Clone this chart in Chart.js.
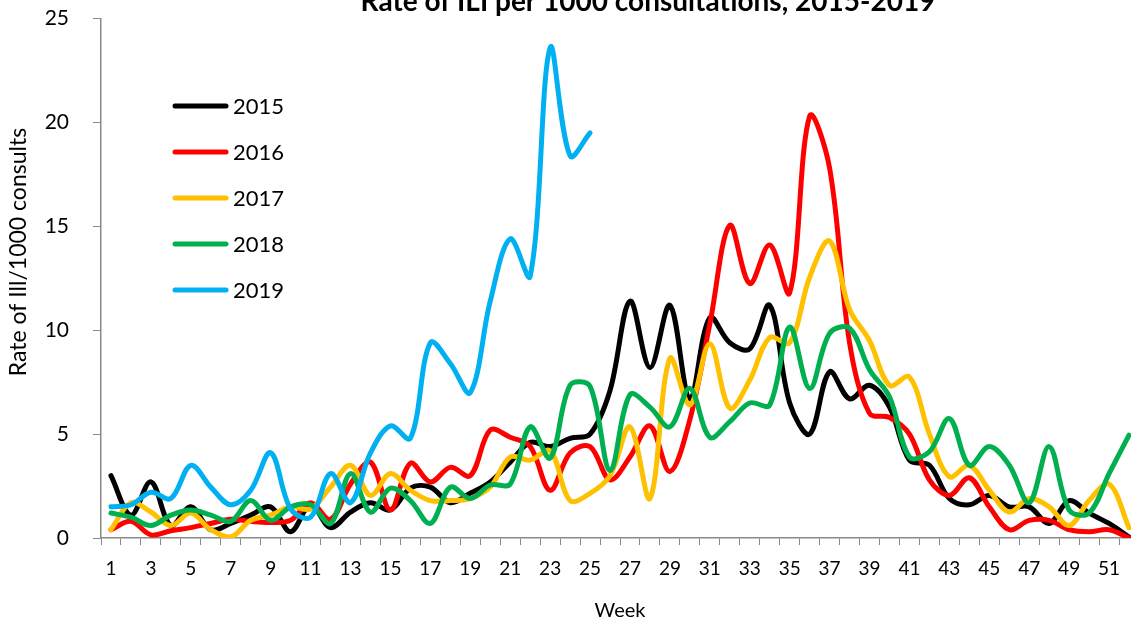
<!DOCTYPE html>
<html>
<head>
<meta charset="utf-8">
<script src="https://cdn.jsdelivr.net/npm/chart.js@4.4.0/dist/chart.umd.min.js"></script>
<style>
  html, body { margin: 0; padding: 0; background: #fff; overflow: hidden; }
  canvas { display: block; margin-top: -18px; }
</style>
</head>
<body>
<canvas id="chart" width="1144" height="642"></canvas>
<script>
const weeks = [1, 2, 3, 4, 5, 6, 7, 8, 9, 10, 11, 12, 13, 14, 15, 16, 17, 18, 19, 20, 21, 22, 23, 24, 25, 26,
  27, 28, 29, 30, 31, 32, 33, 34, 35, 36, 37, 38, 39, 40, 41, 42, 43, 44, 45, 46, 47, 48, 49, 50, 51, 52];

const years = ["2015", "2016", "2017", "2018", "2019"];

const rate2015 = [3.0, 1.1, 2.7, 0.6, 1.5, 0.4, 0.7, 1.1, 1.5, 0.3, 1.6, 0.5, 1.25, 1.7, 1.35, 2.4, 2.45, 1.7, 2.15, 2.7,
  3.65, 4.6, 4.4, 4.8, 5.0, 7.1, 11.4, 8.2, 11.2, 6.7, 10.6, 9.4, 9.1, 11.2, 6.5, 5.0, 8.0, 6.7, 7.35, 6.3,
  3.75, 3.5, 1.9, 1.6, 2.05, 1.5, 1.5, 0.7, 1.8, 1.2, 0.7, 0.05];
const rate2016 = [0.4, 0.8, 0.15, 0.35, 0.5, 0.7, 0.9, 0.8, 0.75, 0.85, 1.7, 0.9, 2.6, 3.65, 1.35, 3.6, 2.7, 3.4, 3.0, 5.2,
  4.85, 4.4, 2.3, 4.1, 4.4, 2.8, 3.9, 5.4, 3.2, 5.7, 10.3, 15.05, 12.25, 14.1, 11.8, 20.3, 17.8, 9.4, 6.0, 5.8,
  5.0, 2.8, 2.05, 2.9, 1.5, 0.4, 0.85, 0.85, 0.4, 0.3, 0.4, 0.0];
const rate2017 = [0.4, 1.7, 1.25, 0.6, 1.2, 0.4, 0.05, 0.85, 1.1, 1.5, 1.4, 2.45, 3.5, 2.05, 3.1, 2.3, 1.8, 1.8, 1.9, 2.45,
  3.9, 3.75, 4.2, 1.8, 2.15, 3.0, 5.35, 1.9, 8.65, 6.4, 9.35, 6.25, 7.6, 9.65, 9.4, 12.55, 14.3, 11.0, 9.5, 7.35,
  7.75, 5.0, 2.95, 3.5, 2.3, 1.25, 1.9, 1.5, 0.6, 1.8, 2.6, 0.5];
const rate2018 = [1.2, 1.0, 0.6, 1.1, 1.35, 1.1, 0.8, 1.8, 0.85, 1.5, 1.6, 0.7, 3.1, 1.25, 2.4, 1.8, 0.7, 2.45, 1.9, 2.55,
  2.6, 5.35, 3.85, 7.35, 7.3, 3.25, 6.9, 6.3, 5.35, 7.2, 4.85, 5.6, 6.5, 6.4, 10.15, 7.2, 9.85, 10.1, 8.1, 6.8,
  3.9, 4.15, 5.75, 3.5, 4.4, 3.5, 1.7, 4.4, 1.35, 1.2, 3.1, 4.95];
const rate2019 = [1.5, 1.6, 2.2, 1.9, 3.5, 2.45, 1.6, 2.3, 4.1, 1.4, 1.0, 3.1, 1.7, 4.1, 5.4, 4.8, 9.4, 8.4, 7.0, 11.4,
  14.4, 12.6, 23.6, 18.4, 19.5];

const yTicks = [0, 5, 10, 15, 20, 25];

const lineColors = ["#000000", "#FF0000", "#FFC000", "#00B050", "#00B0F0"];
const series = [rate2015, rate2016, rate2017, rate2018, rate2019];

const FONT = "Lato, 'Open Sans', sans-serif";
const SHIFT = 18; // le canvas est remonté de 18px (titre coupé en haut)

// titre + légende + titre de l'axe Y dessinés à la main
const extraText = {
  id: "extraText",
  afterDraw(chart) {
    const c = chart.ctx;
    c.save();
    c.fillStyle = "#000";
    c.font = "bold 28px " + FONT;
    c.textAlign = "center";
    c.textBaseline = "alphabetic";
    c.fillText("Rate of ILI per 1000 consultations, 2015-2019", 648, 11 + SHIFT);

    c.save();
    c.translate(19, 252 + SHIFT);
    c.rotate(-Math.PI / 2);
    c.font = "23px " + FONT;
    c.textBaseline = "middle";
    c.fillText("Rate of Ill/1000 consults", 0, 0);
    c.restore();

    c.font = "22px " + FONT;
    c.textAlign = "left";
    c.textBaseline = "middle";
    chart.data.datasets.forEach(function (ds, i) {
      const y = 106 + SHIFT + i * 46;
      c.strokeStyle = ds.borderColor;
      c.lineWidth = 5;
      c.lineCap = "round";
      c.beginPath();
      c.moveTo(175, y);
      c.lineTo(226, y);
      c.stroke();
      c.fillText(ds.label, 233, y + 1);
    });
    c.restore();
  },
};

const datasets = years.map(function (y, i) {
  return {
    label: y,
    data: series[i],
    borderColor: lineColors[i],
    backgroundColor: lineColors[i],
    borderWidth: 5,
    pointRadius: 0,
    tension: 0.35,
    fill: false,
    borderCapStyle: "round",
    borderJoinStyle: "round",
    order: years.length - 1 - i,
  };
});

new Chart(document.getElementById("chart"), {
  type: "line",
  data: { labels: weeks, datasets: datasets },
  options: {
    responsive: false,
    animation: false,
    devicePixelRatio: 1,
    layout: { padding: { top: 0, right: 5, left: 0, bottom: 0 } },
    plugins: {
      legend: { display: false },
      tooltip: { enabled: false },
      title: { display: false },
    },
    scales: {
      x: {
        type: "category",
        offset: true,
        afterFit: function (scale) { scale.height = 86; },
        grid: {
          offset: true,
          drawOnChartArea: false,
          drawTicks: true,
          tickLength: 7,
          color: "#898989",
        },
        border: { color: "#898989", width: 1.5 },
        ticks: {
          autoSkip: false,
          maxRotation: 0,
          padding: 12,
          color: "#000",
          font: { family: FONT, size: 19 },
          callback: function (val, idx) {
            return idx % 2 === 0 ? weeks[idx] : "";
          },
        },
        title: {
          display: true,
          text: "Week",
          color: "#000",
          font: { family: FONT, size: 20 },
          padding: { top: 0, bottom: 1 },
        },
      },
      y: {
        min: 0,
        max: 25,
        afterFit: function (scale) { scale.width = 101; },
        afterBuildTicks: function (scale) {
          scale.ticks = yTicks.map(function (v) { return { value: v }; });
        },
        grid: {
          drawOnChartArea: false,
          drawTicks: true,
          tickLength: 8,
          color: "#898989",
        },
        border: { color: "#898989", width: 1.5 },
        ticks: {
          padding: 24,
          color: "#000",
          font: { family: FONT, size: 21 },
        },
      },
    },
  },
  plugins: [extraText],
});
</script>
</body>
</html>
